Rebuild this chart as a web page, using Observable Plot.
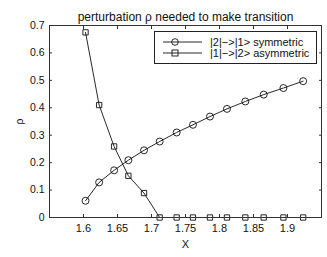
<!DOCTYPE html>
<html><head><meta charset="utf-8">
<script src="https://cdn.jsdelivr.net/npm/d3@7"></script>
<script src="https://cdn.jsdelivr.net/npm/@observablehq/plot@0.6"></script>
<style>
body{margin:0;background:#fff;font-family:"Liberation Sans",Arial,sans-serif;}
#wrap{position:relative;width:327px;height:257px;}
#legend{position:absolute;left:154px;top:31px;width:163px;height:33px;border:1px solid #222;background:#fff;box-sizing:border-box;font-size:11px;color:#111;}
#legend .row{position:absolute;left:0;height:12px;display:flex;align-items:center;white-space:nowrap;}
#legend svg{display:block}
</style></head>
<body><div id="wrap"><div id="chart"></div><div id="legend"></div></div>
<script>
const titleText = "perturbation ρ needed to make transition";
const xLabel = "X";
const yLabel = "ρ";
const seriesNames = ["|2|−>|1> symmetric", "|1|−>|2> asymmetric"];
const xValues = [1.603, 1.623, 1.645, 1.666, 1.689, 1.712, 1.737, 1.761, 1.786, 1.811, 1.838, 1.865, 1.894, 1.923];
const symValues = [0.061, 0.128, 0.172, 0.209, 0.245, 0.277, 0.310, 0.338, 0.368, 0.396, 0.423, 0.448, 0.472, 0.497];
const asymValues = [0.675, 0.410, 0.259, 0.152, 0.089, 0, 0, 0, 0, 0, 0, 0, 0, 0];
const xTicks = [1.6, 1.65, 1.7, 1.75, 1.8, 1.85, 1.9];
const yTicks = [0, 0.1, 0.2, 0.3, 0.4, 0.5, 0.6, 0.7];

const sym = xValues.map((x, i) => ({x, y: symValues[i]}));
const asym = xValues.map((x, i) => ({x, y: asymValues[i]}));
const axisColor = "#333";

const chart = Plot.plot({
  width: 327, height: 257,
  marginLeft: 49, marginRight: 6, marginTop: 25, marginBottom: 40,
  style: {fontFamily: "Liberation Sans, Arial, sans-serif", fontSize: "10.5px", color: "#111", background: "#fff"},
  x: {domain: [1.55, 1.95]},
  y: {domain: [0, 0.7]},
  marks: [
    Plot.axisX({ticks: xTicks, tickSize: -3, tickPadding: 10, tickFormat: d => String(d), label: xLabel, labelArrow: "none", labelAnchor: "center", labelOffset: 30, stroke: axisColor, fontSize: 11}),
    Plot.axisX({anchor: "top", ticks: xTicks, tickSize: -3, tickFormat: () => "", label: null, stroke: axisColor}),
    Plot.axisY({ticks: yTicks, tickSize: -3, tickPadding: 8, tickFormat: d => String(d), label: yLabel, labelArrow: "none", labelAnchor: "center", labelOffset: 34, stroke: axisColor, fontSize: 10.5}),
    Plot.axisY({anchor: "right", ticks: yTicks, tickSize: -3, tickFormat: () => "", label: null, stroke: axisColor}),
    Plot.line(sym, {x: "x", y: "y", stroke: "#111", strokeWidth: 0.9}),
    Plot.line(asym, {x: "x", y: "y", stroke: "#111", strokeWidth: 0.9}),
    Plot.dot(sym, {x: "x", y: "y", r: 3.5, stroke: "#111", fill: "none", strokeWidth: 0.9}),
    Plot.dot(asym, {x: "x", y: "y", r: 3, symbol: "square", stroke: "#111", fill: "none", strokeWidth: 0.9}),
    Plot.frame({stroke: axisColor}),
    Plot.text([titleText], {text: d => d, frameAnchor: "top", dy: -13, fontSize: 12, fill: "#111"})
  ]
});
document.getElementById("chart").appendChild(chart);

const legend = document.getElementById("legend");
const markers = [
  '<circle cx="20" cy="6" r="3.3" fill="none" stroke="#111" stroke-width="0.9"/>',
  '<rect x="17" y="3" width="6" height="6" fill="none" stroke="#111" stroke-width="0.9"/>'
];
seriesNames.forEach((name, i) => {
  const row = document.createElement("div");
  row.className = "row";
  row.style.top = (4 + i * 11) + "px";
  row.innerHTML = '<svg width="55" height="12"><line x1="8" x2="47" y1="6" y2="6" stroke="#111" stroke-width="0.9"/>' + markers[i] + '</svg><span>' + name + '</span>';
  legend.appendChild(row);
});
</script></body></html>
